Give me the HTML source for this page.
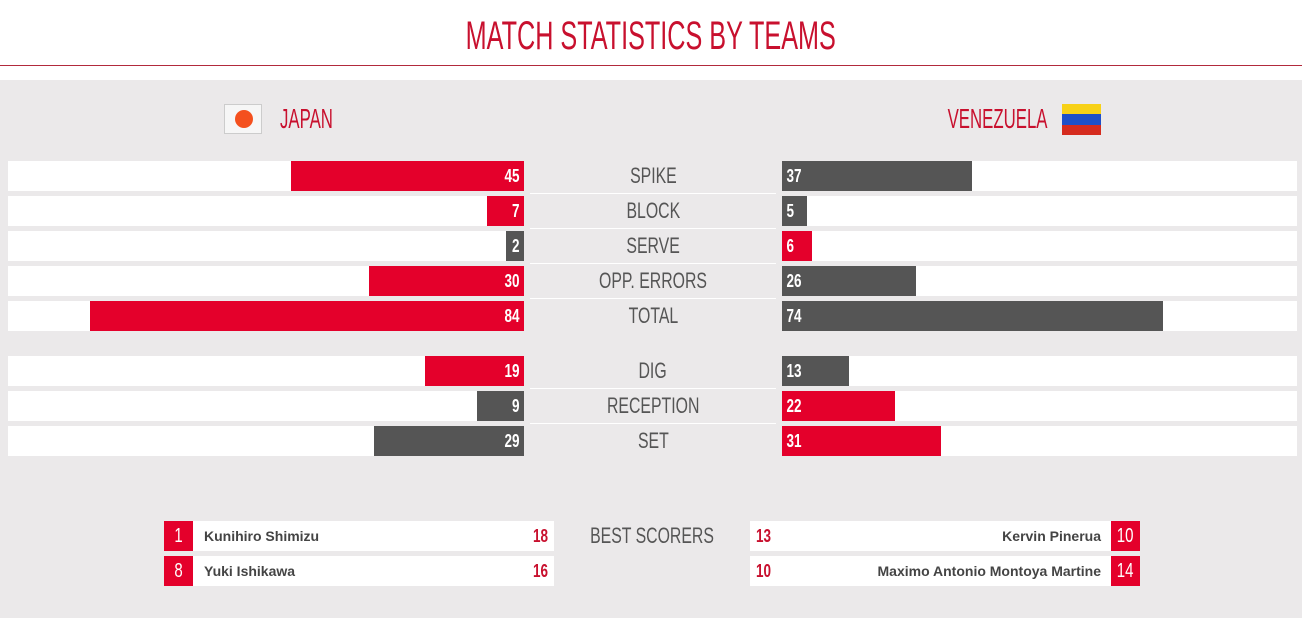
<!DOCTYPE html>
<html><head><meta charset="utf-8"><style>
body{margin:0;width:1302px;height:618px;background:#fff;font-family:"Liberation Sans",sans-serif;position:relative;overflow:hidden}
.a{position:absolute}
.t{display:inline-block;transform:scaleX(.72);transform-origin:center}
.n{display:inline-block;transform:scaleX(.75)}
.title{left:0;width:1302px;top:14px;text-align:center;color:#c8102e;font-size:40px;line-height:44px}
.line{left:0;top:65px;width:1302px;height:1px;background:#b22a3c}
.gray{left:0;top:80px;width:1302px;height:538px;background:#ebe9ea}
.wb{height:30px;background:#fff}
.bar{height:30px;color:#fff;font-weight:bold;font-size:18px;line-height:30px}
.r{background:#e4002b}.d{background:#555}
.lab{left:530px;width:246px;height:34px;text-align:center;color:#555;font-size:22px;line-height:34px;border-bottom:1px solid #fff}
.team{color:#c8102e;font-size:28px;line-height:34px}
.sc{height:30px;background:#fff;font-size:14px;font-weight:bold;color:#444;line-height:30px}
.nb{width:29px;height:30px;background:#e4002b;color:#fff;text-align:center;font-size:20px;line-height:30px}
</style></head><body>
<div class="a title"><span class="t" style="transform:scaleX(.63)">MATCH STATISTICS BY TEAMS</span></div>
<div class="a line"></div>
<div class="a gray"></div>
<div class="a" style="left:224px;top:104px;width:38px;height:30px;background:#f6f6f6;border:1px solid #ccc;box-sizing:border-box"><div style="position:absolute;left:10px;top:5px;width:18px;height:18px;border-radius:50%;background:#f4501e"></div></div>
<div class="a team" style="left:280px;top:102px"><span class="t" style="transform:scaleX(.6);transform-origin:left">JAPAN</span></div>
<div class="a team" style="left:800px;top:102px;width:247px;text-align:right"><span class="t" style="transform:scaleX(.6);transform-origin:right">VENEZUELA</span></div>
<div class="a" style="left:1062px;top:104px;width:39px;height:31px"><div style="height:10px;background:#f7d117"></div><div style="height:11px;background:#1e50c8"></div><div style="height:10px;background:#d52b1e"></div></div>

<div class="a wb" style="left:8px;top:161px;width:516px"></div><div class="a bar r" style="left:291px;top:161px;width:233px;text-align:right"><span class="n" style="transform-origin:right;padding-right:6px">45</span></div>
<div class="a wb" style="left:782px;top:161px;width:515px"></div><div class="a bar d" style="left:782px;top:161px;width:190px"><span class="n" style="transform-origin:left;padding-left:6px">37</span></div>
<div class="a lab" style="top:159px"><span class="t">SPIKE</span></div>

<div class="a wb" style="left:8px;top:196px;width:516px"></div><div class="a bar r" style="left:487px;top:196px;width:37px;text-align:right"><span class="n" style="transform-origin:right;padding-right:6px">7</span></div>
<div class="a wb" style="left:782px;top:196px;width:515px"></div><div class="a bar d" style="left:782px;top:196px;width:25px"><span class="n" style="transform-origin:left;padding-left:6px">5</span></div>
<div class="a lab" style="top:194px"><span class="t">BLOCK</span></div>

<div class="a wb" style="left:8px;top:231px;width:516px"></div><div class="a bar d" style="left:506px;top:231px;width:18px;text-align:right"><span class="n" style="transform-origin:right;padding-right:6px">2</span></div>
<div class="a wb" style="left:782px;top:231px;width:515px"></div><div class="a bar r" style="left:782px;top:231px;width:30px"><span class="n" style="transform-origin:left;padding-left:6px">6</span></div>
<div class="a lab" style="top:229px"><span class="t">SERVE</span></div>

<div class="a wb" style="left:8px;top:266px;width:516px"></div><div class="a bar r" style="left:369px;top:266px;width:155px;text-align:right"><span class="n" style="transform-origin:right;padding-right:6px">30</span></div>
<div class="a wb" style="left:782px;top:266px;width:515px"></div><div class="a bar d" style="left:782px;top:266px;width:134px"><span class="n" style="transform-origin:left;padding-left:6px">26</span></div>
<div class="a lab" style="top:264px"><span class="t">OPP. ERRORS</span></div>

<div class="a wb" style="left:8px;top:301px;width:516px"></div><div class="a bar r" style="left:90px;top:301px;width:434px;text-align:right"><span class="n" style="transform-origin:right;padding-right:6px">84</span></div>
<div class="a wb" style="left:782px;top:301px;width:515px"></div><div class="a bar d" style="left:782px;top:301px;width:381px"><span class="n" style="transform-origin:left;padding-left:6px">74</span></div>
<div class="a lab" style="top:299px;border:none"><span class="t">TOTAL</span></div>

<div class="a wb" style="left:8px;top:356px;width:516px"></div><div class="a bar r" style="left:425px;top:356px;width:99px;text-align:right"><span class="n" style="transform-origin:right;padding-right:6px">19</span></div>
<div class="a wb" style="left:782px;top:356px;width:515px"></div><div class="a bar d" style="left:782px;top:356px;width:67px"><span class="n" style="transform-origin:left;padding-left:6px">13</span></div>
<div class="a lab" style="top:354px"><span class="t">DIG</span></div>

<div class="a wb" style="left:8px;top:391px;width:516px"></div><div class="a bar d" style="left:477px;top:391px;width:47px;text-align:right"><span class="n" style="transform-origin:right;padding-right:6px">9</span></div>
<div class="a wb" style="left:782px;top:391px;width:515px"></div><div class="a bar r" style="left:782px;top:391px;width:113px"><span class="n" style="transform-origin:left;padding-left:6px">22</span></div>
<div class="a lab" style="top:389px"><span class="t">RECEPTION</span></div>

<div class="a wb" style="left:8px;top:426px;width:516px"></div><div class="a bar d" style="left:374px;top:426px;width:150px;text-align:right"><span class="n" style="transform-origin:right;padding-right:6px">29</span></div>
<div class="a wb" style="left:782px;top:426px;width:515px"></div><div class="a bar r" style="left:782px;top:426px;width:159px"><span class="n" style="transform-origin:left;padding-left:6px">31</span></div>
<div class="a lab" style="top:424px;border:none"><span class="t">SET</span></div>

<div class="a sc" style="left:164px;top:521px;width:390px"><span style="position:absolute;left:40px">Kunihiro Shimizu</span><span class="n" style="position:absolute;right:6px;color:#c8102e;font-size:18px;transform-origin:right">18</span></div>
<div class="a nb" style="left:164px;top:521px"><span class="n">1</span></div>
<div class="a sc" style="left:164px;top:556px;width:390px"><span style="position:absolute;left:40px">Yuki Ishikawa</span><span class="n" style="position:absolute;right:6px;color:#c8102e;font-size:18px;transform-origin:right">16</span></div>
<div class="a nb" style="left:164px;top:556px"><span class="n">8</span></div>
<div class="a" style="left:560px;top:519px;width:184px;text-align:center;color:#555;font-size:22px;line-height:34px"><span class="t">BEST SCORERS</span></div>
<div class="a sc" style="left:750px;top:521px;width:390px"><span class="n" style="position:absolute;left:6px;color:#c8102e;font-size:18px;transform-origin:left">13</span><span style="position:absolute;right:39px">Kervin Pinerua</span></div>
<div class="a nb" style="left:1111px;top:521px"><span class="n">10</span></div>
<div class="a sc" style="left:750px;top:556px;width:390px"><span class="n" style="position:absolute;left:6px;color:#c8102e;font-size:18px;transform-origin:left">10</span><span style="position:absolute;right:39px">Maximo Antonio Montoya Martine</span></div>
<div class="a nb" style="left:1111px;top:556px"><span class="n">14</span></div>
</body></html>
